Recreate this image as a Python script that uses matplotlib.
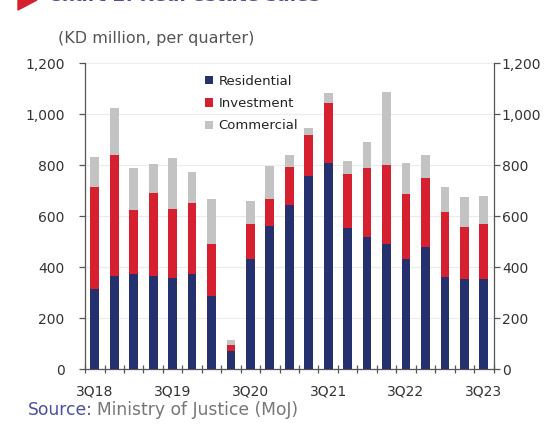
import numpy as np
import matplotlib
matplotlib.use("Agg")
import matplotlib.pyplot as plt
from matplotlib.patches import Polygon

quarters = ["3Q18", "4Q18", "1Q19", "2Q19", "3Q19", "4Q19", "1Q20", "2Q20", "3Q20", "4Q20",
            "1Q21", "2Q21", "3Q21", "4Q21", "1Q22", "2Q22", "3Q22", "4Q22", "1Q23", "2Q23", "3Q23"]
residential = [314, 365, 372, 365, 357, 372, 287, 71, 430, 562,
               643, 757, 807, 554, 516, 492, 432, 478, 361, 354, 352]
investment = [399, 474, 251, 326, 271, 278, 202, 24, 140, 106,
              150, 160, 237, 210, 273, 309, 253, 272, 254, 203, 215]
commercial = [118, 184, 165, 113, 198, 122, 177, 17, 90, 127,
              46, 28, 37, 51, 102, 286, 124, 89, 98, 116, 111]
label_every = 4

navy = "#25306f"
red = "#d7202f"
grey = "#c3c3c3"

fig = plt.figure(figsize=(5.56, 4.24), dpi=100)
ax = fig.add_axes([0.153, 0.1297, 0.7346, 0.7217])

x = np.arange(len(quarters))
res = np.array(residential)
inv = np.array(investment)
com = np.array(commercial)
w = 0.45
ax.bar(x, res, w, color=navy, label="Residential", zorder=3)
ax.bar(x, inv, w, bottom=res, color=red, label="Investment", zorder=3)
ax.bar(x, com, w, bottom=res + inv, color=grey, label="Commercial", zorder=3)

ax.set_xlim(-0.5, len(quarters) - 0.55)
ax.set_ylim(0, 1200)
ax.set_yticks(np.arange(0, 1201, 200))
ax.set_yticklabels([f"{v:,}" for v in range(0, 1201, 200)])
ax.yaxis.grid(True, color="#ececec", lw=0.8, zorder=0)

ax.set_xticks(x[::label_every])
ax.set_xticklabels(quarters[::label_every])
ax.set_xticks(np.arange(-0.5, len(quarters), 1), minor=True)
ax.tick_params(axis="x", which="major", length=0, pad=11, labelsize=10, colors="#333333")
ax.tick_params(axis="x", which="minor", direction="inout", length=6, width=0.9, color="#555555")

ax.tick_params(axis="y", length=4, width=0.9, labelsize=10, colors="#333333", color="#555555")
ax.tick_params(axis="y", labelright=True, right=True)
ax.tick_params(axis="y", which="major", pad=2)
for t in ax.yaxis.get_major_ticks():
    t.label1.set_x(-0.03)

ax.spines["top"].set_visible(False)
for s in ["left", "right", "bottom"]:
    ax.spines[s].set_color("#555555")
    ax.spines[s].set_linewidth(0.9)

leg = ax.legend(loc="upper left", bbox_to_anchor=(0.265, 1.0), frameon=False, fontsize=9.5,
                handlelength=0.6, handleheight=0.6, handletextpad=0.4, labelspacing=0.7)
for t in leg.get_texts():
    t.set_color("#222222")

# title (cut at top edge, as in the source image) and decoration
fig.text(48 / 556, 1 - 1 / 424, "Chart 2: Real estate sales", fontsize=13.5, fontweight="bold",
         color="#4b4f9e", va="baseline", ha="left")
fig.patches.append(Polygon([[18 / 556, 1.0], [37 / 556, 1.0], [18 / 556, 1 - 10 / 424]],
                           closed=True, transform=fig.transFigure, color=red, figure=fig))

fig.text(58 / 556, 1 - 38 / 424, "(KD million, per quarter)", fontsize=11.5, color="#555555",
         va="center", ha="left")

src = fig.text(28 / 556, 1 - 410 / 424, "Source:", fontsize=12.3, color="#4b4f9e", va="center", ha="left")
fig.canvas.draw()
bb = src.get_window_extent()
fig.text((bb.x1 + 4) / 556, 1 - 410 / 424, "Ministry of Justice (MoJ)", fontsize=12.3,
         color="#777777", va="center", ha="left")

fig.savefig("out.png", dpi=100)
